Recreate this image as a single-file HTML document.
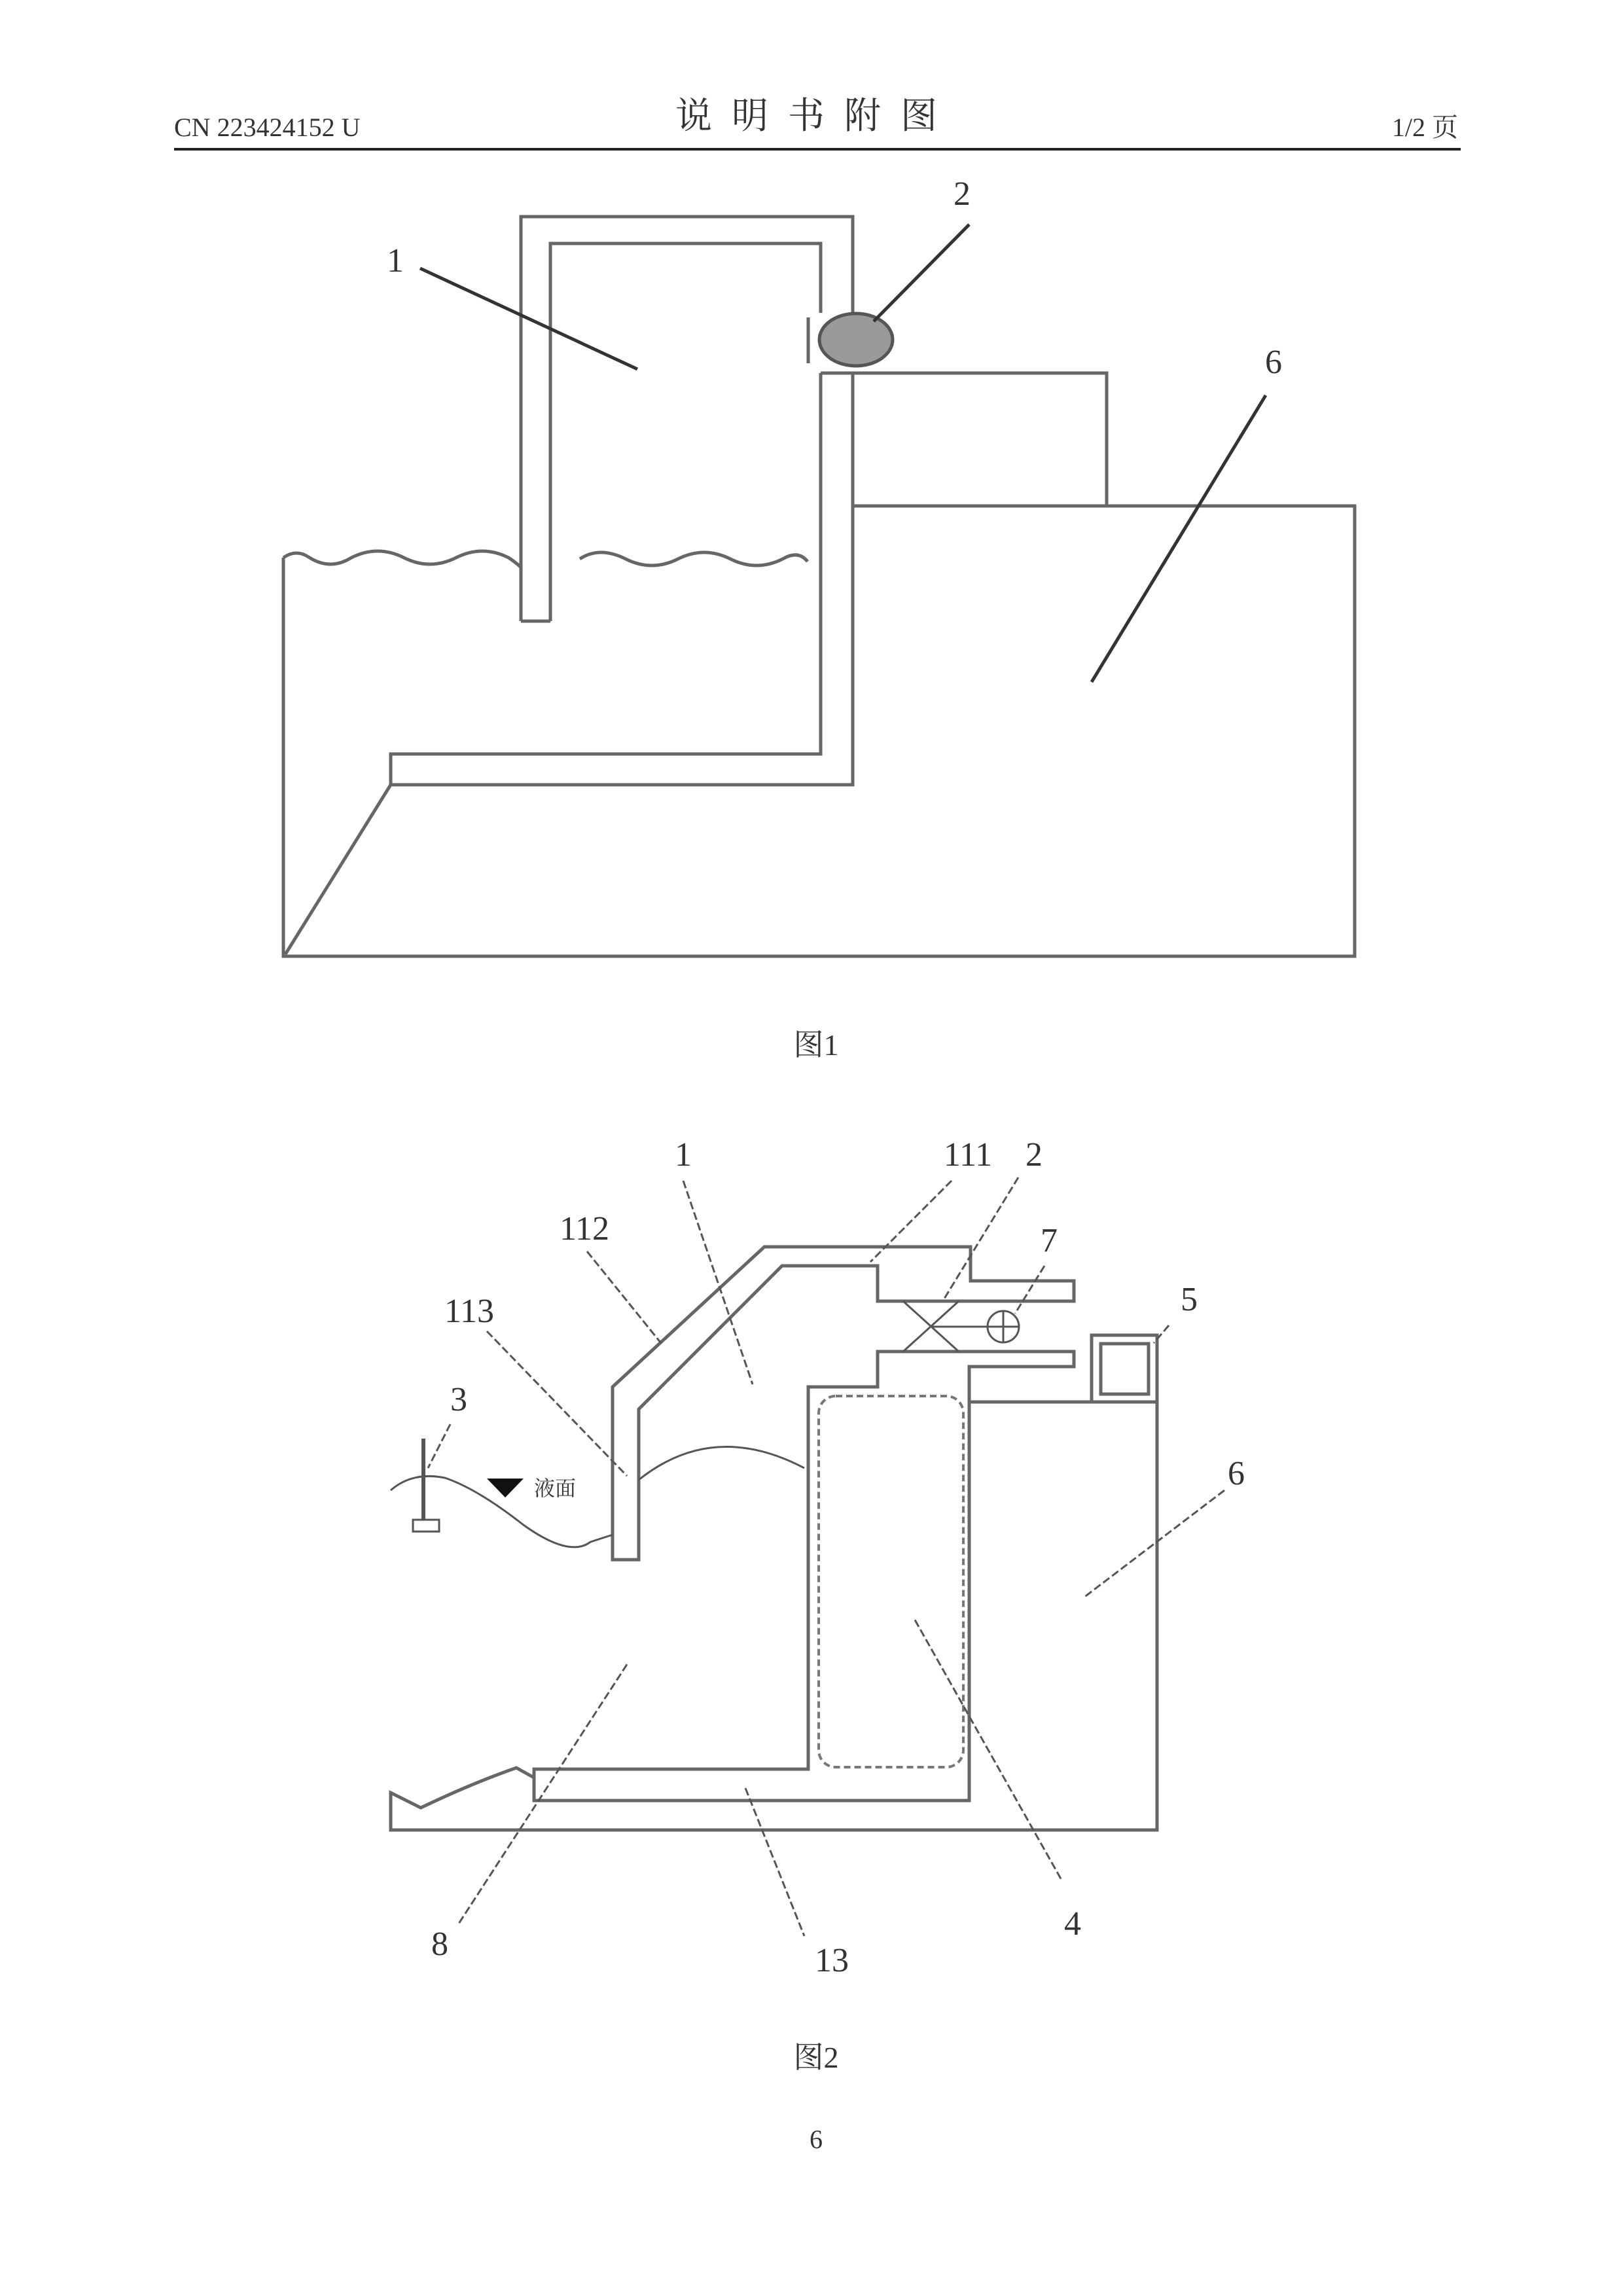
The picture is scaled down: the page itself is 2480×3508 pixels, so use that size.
<!DOCTYPE html>
<html><head><meta charset="utf-8"><style>
html,body{margin:0;padding:0;background:#fff}
svg{display:block}
text{font-family:"Liberation Serif","Noto Serif CJK SC",serif;fill:#333}
</style></head><body>
<svg width="2480" height="3508" viewBox="0 0 2480 3508" xmlns="http://www.w3.org/2000/svg">
<!-- header -->
<text x="266" y="208" font-size="40">CN 223424152 U</text>
<text x="1247" y="196" font-size="56" text-anchor="middle" font-family="Noto Serif CJK SC, serif" letter-spacing="30">说明书附图</text>
<text x="2228" y="208" font-size="40" text-anchor="end">1/2 页</text>
<line x1="266" y1="228" x2="2232" y2="228" stroke="#222" stroke-width="4"/>

<g fill="none" stroke="#666" stroke-width="5">
<!-- Fig 1 -->
<path d="M433,852 L433,1461 L2070,1461 L2070,773 L1303,773"/>
<path d="M1303,773 L1303,570 L1691,570 L1691,773"/>
<path d="M433,852 q20,-14 40,0 q32,20 64,0 q40,-20 80,0 q40,20 80,0 q40,-20 80,0 q12,8 18,14"/>
<path d="M886,854 q30,-20 70,0 q40,20 80,0 q40,-20 80,0 q40,20 80,0 q24,-14 38,4"/>
<path d="M796,949 L796,331 L1303,331 L1303,478"/>
<path d="M841,949 L841,372 L1254,372 L1254,478"/>
<line x1="796" y1="949" x2="841" y2="949"/>
<path d="M1254,570 L1254,1152 L597,1152 L597,1199 L1303,1199 L1303,570"/>
<line x1="1254" y1="570" x2="1303" y2="570"/>
<line x1="597" y1="1199" x2="436" y2="1458"/>
<line x1="1235" y1="485" x2="1235" y2="555"/>
</g>
<ellipse cx="1308" cy="519" rx="56" ry="40" fill="#999" stroke="#555" stroke-width="5"/>
<g stroke="#333" stroke-width="5">
<line x1="642" y1="410" x2="974" y2="564"/>
<line x1="1481" y1="343" x2="1335" y2="491"/>
<line x1="1934" y1="604" x2="1668" y2="1042"/>
</g>
<g font-size="52" text-anchor="middle">
<text x="604" y="415">1</text>
<text x="1470" y="313">2</text>
<text x="1946" y="570">6</text>
</g>
<text x="1247" y="1612" font-size="46" text-anchor="middle">图1</text>

<!-- Fig 2 -->
<g fill="none" stroke="#666" stroke-width="5">
<path d="M936,2119 L936,2383 L976,2383 L976,2153 L1195,1934 L1341,1934 L1341,1988 L1641,1988 L1641,1957 L1483,1957 L1483,1905 L1168,1905 Z"/>
<path d="M1235,2703 L1235,2119 L1341,2119 L1341,2065 L1641,2065 L1641,2088 L1481,2088 L1481,2751 L816,2751 L816,2703 Z"/>
<path d="M1481,2142 L1768,2142 L1768,2796 L597,2796 L597,2739 L643,2762 Q720,2725 789,2701 L816,2716"/>
<rect x="1668" y="2040" width="100" height="102"/>
<rect x="1682" y="2053" width="73" height="77"/>
</g>
<rect x="1251" y="2133" width="221" height="567" rx="26" fill="none" stroke="#777" stroke-width="4" stroke-dasharray="10,6"/>
<g fill="none" stroke="#555" stroke-width="3">
<path d="M1380,1988 L1465,2065 M1465,1988 L1380,2065"/>
<line x1="1422" y1="2027" x2="1509" y2="2027"/>
<circle cx="1533" cy="2027" r="24"/>
<line x1="1509" y1="2027" x2="1557" y2="2027"/><line x1="1533" y1="2003" x2="1533" y2="2051"/>
<path d="M597,2277 Q630,2248 680,2258 Q730,2275 800,2330 Q870,2380 902,2356 Q920,2350 936,2345"/>
<path d="M976,2261 Q1090,2170 1229,2243"/>
<line x1="647" y1="2198" x2="647" y2="2322" stroke-width="6"/>
<rect x="631" y="2322" width="40" height="18"/>
</g>
<polygon points="744,2259 800,2259 772,2288" fill="#111"/>
<text x="816" y="2285" font-size="32" font-family="Noto Sans CJK SC, sans-serif">液面</text>
<g stroke="#555" stroke-width="3" stroke-dasharray="12,5">
<line x1="1044" y1="1804" x2="1150" y2="2115"/>
<line x1="1454" y1="1804" x2="1330" y2="1928"/>
<line x1="1556" y1="1799" x2="1443" y2="1984"/>
<line x1="897" y1="1912" x2="1010" y2="2052"/>
<line x1="744" y1="2034" x2="958" y2="2255"/>
<line x1="688" y1="2176" x2="654" y2="2243"/>
<line x1="1596" y1="1934" x2="1551" y2="2007"/>
<line x1="1786" y1="2025" x2="1763" y2="2052"/>
<line x1="1871" y1="2277" x2="1657" y2="2440"/>
<line x1="1398" y1="2475" x2="1623" y2="2874"/>
<line x1="958" y1="2543" x2="699" y2="2942"/>
<line x1="1139" y1="2732" x2="1229" y2="2958"/>
</g>
<g font-size="52" text-anchor="middle">
<text x="1044" y="1781">1</text>
<text x="1479" y="1781">111</text>
<text x="1580" y="1781">2</text>
<text x="893" y="1894">112</text>
<text x="717" y="2020">113</text>
<text x="1603" y="1912">7</text>
<text x="1817" y="2002">5</text>
<text x="701" y="2155">3</text>
<text x="1889" y="2268">6</text>
<text x="672" y="2987">8</text>
<text x="1271" y="3012">13</text>
<text x="1639" y="2956">4</text>
</g>
<text x="1247" y="3159" font-size="46" text-anchor="middle">图2</text>
<text x="1247" y="3282" font-size="40" text-anchor="middle">6</text>
</svg>
</body></html>
